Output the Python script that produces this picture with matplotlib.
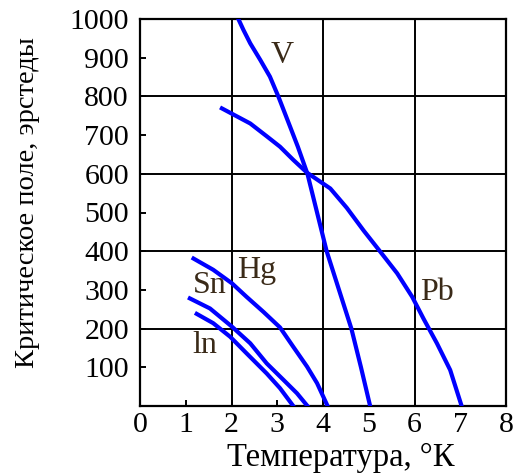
import numpy as np
import matplotlib
matplotlib.use('Agg')
from matplotlib import pyplot as plt

plt.rcParams['font.family'] = ['Liberation Serif', 'DejaVu Serif']

# critical field curves H(T)
v_t = [2.15, 2.26, 2.41, 2.63, 2.84, 3.03, 3.28, 3.45, 3.66, 3.87, 4.08, 4.35, 4.62, 4.83, 5.03]
v_h = [1000, 972, 937, 894, 851, 798, 722, 670, 600, 500, 400, 300, 200, 100, 0]

pb_t = [1.79, 2.41, 2.77, 3.06, 3.35, 3.65, 4.16, 4.52, 4.89, 5.25, 5.62, 5.95, 6.20, 6.49, 6.78, 7.03]
pb_h = [769, 730, 697, 670, 636, 603, 562, 512, 453, 399, 343, 282, 225, 162, 93, 0]

hg_t = [1.17, 1.60, 2.01, 2.33, 2.70, 3.06, 3.35, 3.65, 3.87, 4.10]
hg_h = [381, 352, 317, 282, 243, 203, 153, 102, 59, 0]

sn_t = [1.09, 1.53, 2.01, 2.41, 2.77, 3.14, 3.43, 3.66]
sn_h = [278, 252, 205, 162, 110, 67, 33, 0]

in_t = [1.24, 1.60, 1.97, 2.33, 2.77, 3.06, 3.35]
in_h = [238, 214, 179, 136, 84, 46, 0]

curves = [(v_t, v_h), (pb_t, pb_h), (hg_t, hg_h), (sn_t, sn_h), (in_t, in_h)]
names = ['V', 'Pb', 'Hg', 'Sn', 'ln']
name_pos = [(3.10, 886), (6.48, 274), (2.54, 330), (1.53, 291), (1.42, 136)]

xticks = list(range(0, 9))
yticks = list(range(100, 1001, 100))

fig = plt.figure(figsize=(5.17, 4.74), dpi=100)
ax = fig.add_axes([140/517, 1-406/474, 366/517, 387/474])

for x in [2, 4, 6]:
    ax.axvline(x, color='black', lw=1.4, zorder=1)
for y in [200, 400, 600, 800]:
    ax.axhline(y, color='black', lw=1.4, zorder=1)

for t, h in curves:
    ax.plot(t, h, color='blue', lw=3, zorder=3, solid_joinstyle='round')

for name, (x, y) in zip(names, name_pos):
    ax.text(x, y, name, fontsize=23, ha='center', va='baseline', color='#3a2a18')

ax.set_xlim(0, 8)
ax.set_ylim(0, 1000)
ax.set_xticks(xticks)
ax.set_xticklabels([str(v) for v in xticks], fontfamily='Liberation Serif', fontsize=21.5)
ax.set_yticks(yticks)
ax.set_yticklabels([str(v) for v in yticks], fontfamily='Liberation Serif', fontsize=21.5)
ax.tick_params(direction='in', length=4, width=1.4)
ax.tick_params(axis='x', pad=4)
ax.tick_params(axis='y', pad=8)
for s in ax.spines.values():
    s.set_linewidth(1.6)

fig.text(28/517, 1-202.5/474, 'Критическое поле, эрстеды', rotation=90,
         ha='center', va='center', fontsize=20.5)
fig.text(341/517, 1-458/474, 'Температура, °К', ha='center', va='center',
         fontsize=23.5)

fig.savefig('out.png', dpi=100)
